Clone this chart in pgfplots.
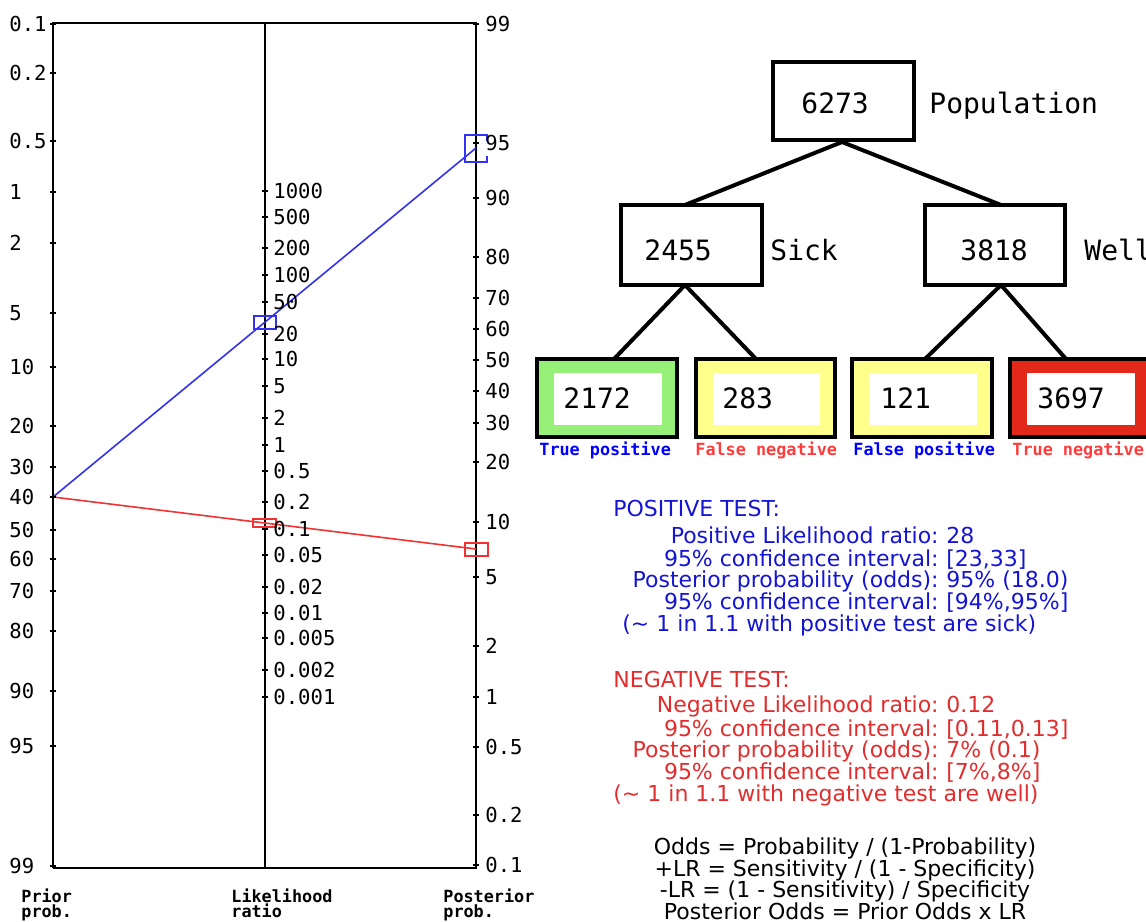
\documentclass[border=0pt]{standalone}
\usepackage{pgfplots}
\pgfplotsset{compat=1.18}
\usepackage{pgfplotstable}
\usepackage{fontspec}
\setmainfont{DejaVu Sans}
\newfontfamily\mono{DejaVu Sans Mono}

\definecolor{lineblue}{RGB}{50,50,240}
\definecolor{linered}{RGB}{240,50,50}
\definecolor{textblue}{RGB}{20,20,210}
\definecolor{textred}{RGB}{225,45,45}
\definecolor{labblue}{RGB}{0,0,255}
\definecolor{labred}{RGB}{255,60,60}
\definecolor{leafgreen}{RGB}{150,240,120}
\definecolor{leafyellow}{RGB}{255,255,140}
\definecolor{leafred}{RGB}{225,40,25}

\newcommand\ticklab{\mono\fontsize{10.3bp}{12bp}\selectfont}
\newcommand\treefont{\mono\fontsize{14bp}{16bp}\selectfont}
\newcommand\smallmono{\mono\bfseries\fontsize{8.4bp}{10bp}\selectfont}
\newcommand\txt{\fontsize{11bp}{13bp}\selectfont}

% nomogram scales, positions in pixels from the top
\pgfplotstableread{
y lab
24 0.1
73 0.2
141 0.5
192 1
243 2
313 5
367 10
426 20
467 30
497 40
530 50
559 60
591 70
631 80
691 90
746 95
866 99
}\prior

\pgfplotstableread{
y lab
191 1000
217 500
248 200
275 100
302 50
334 20
359 10
386 5
418 2
445 1
471 0.5
502 0.2
529 0.1
555 0.05
587 0.02
613 0.01
638 0.005
670 0.002
697 0.001
}\lratio

\pgfplotstableread{
y lab
24 99
143 95
198 90
257 80
298 70
329 60
360 50
391 40
423 30
462 20
522 10
577 5
646 2
697 1
747 0.5
815 0.2
865 0.1
}\post

\begin{document}
\begin{tikzpicture}[every node/.append style={inner sep=0pt}]
\begin{axis}[
    name=ax,
    width=573bp, height=461bp, scale only axis,
    xmin=0, xmax=1146, ymin=0, ymax=922,
    y dir=reverse,
    hide axis,
    clip=false,
    ticklabs/.style={draw=none, mark=none, nodes near coords,
        point meta=explicit symbolic,
        every node near coord/.append style={anchor=west, inner sep=0pt, font=\ticklab, text=black}},
    ticks/.style={black, only marks, mark=-, mark size=1.6bp, mark options={line width=0.9bp}},
]
% frame of the nomogram
\addplot[black, line width=1bp] coordinates {(53,868)(53,23)(476,23)(476,868)(53,868)};
\addplot[black, line width=1bp] coordinates {(265,23)(265,868)};

\addplot[ticks] table[x expr=53, y=y] {\prior};
\addplot[ticks] table[x expr=265, y=y] {\lratio};
\addplot[ticks] table[x expr=476, y=y] {\post};

\addplot[ticklabs] table[x expr=9, y=y, meta=lab] {\prior};
\addplot[ticklabs] table[x expr=273, y=y, meta=lab] {\lratio};
\addplot[ticklabs] table[x expr=485, y=y, meta=lab] {\post};

% positive test
\addplot[lineblue, line width=0.8bp] coordinates {(53,497)(476,148)};
\addplot[lineblue, line width=0.9bp] coordinates {(254,316)(276,316)(276,329)(254,329)} -- cycle;
\addplot[lineblue, line width=0.9bp] coordinates {(487,141)(487,135)(465,135)(465,162)(487,162)(487,156)};
% negative test
\addplot[linered, line width=0.8bp] coordinates {(53,497)(476,549)};
\addplot[linered, line width=0.9bp] coordinates {(253,519)(276,519)(276,527)(253,527)} -- cycle;
\addplot[linered, line width=0.9bp] coordinates {(465,543)(488,543)(488,556)(465,556)} -- cycle;

\node[anchor=base west, font=\smallmono] at (axis cs:21,902) {Prior};
\node[anchor=base west, font=\smallmono] at (axis cs:21,917) {prob.};
\node[anchor=base west, font=\smallmono] at (axis cs:231,902) {Likelihood};
\node[anchor=base west, font=\smallmono] at (axis cs:231,917) {ratio};
\node[anchor=base west, font=\smallmono] at (axis cs:443,902) {Posterior};
\node[anchor=base west, font=\smallmono] at (axis cs:443,917) {prob.};

% tree
\addplot[black, line width=2bp] coordinates {(685,205)(842,142)(1001,205)};
\addplot[black, line width=2bp] coordinates {(614,359)(685,285)(756,359)};
\addplot[black, line width=2bp] coordinates {(925,359)(1001,285)(1066,359)};

\addplot[draw=black, fill=white, line width=1.8bp] coordinates {(773,62)(914,62)(914,140)(773,140)} -- cycle;
\addplot[draw=black, fill=white, line width=1.8bp] coordinates {(621,205)(762,205)(762,285)(621,285)} -- cycle;
\addplot[draw=black, fill=white, line width=1.8bp] coordinates {(925,205)(1065,205)(1065,285)(925,285)} -- cycle;

\addplot[draw=black, fill=leafgreen, line width=1.6bp] coordinates {(537,359)(677,359)(677,437)(537,437)} -- cycle;
\addplot[draw=none, fill=white] coordinates {(554,373)(662,373)(662,425)(554,425)} -- cycle;
\addplot[draw=black, fill=leafyellow, line width=1.6bp] coordinates {(696,359)(835,359)(835,437)(696,437)} -- cycle;
\addplot[draw=none, fill=white] coordinates {(713,373)(820,373)(820,425)(713,425)} -- cycle;
\addplot[draw=black, fill=leafyellow, line width=1.6bp] coordinates {(852,359)(992,359)(992,437)(852,437)} -- cycle;
\addplot[draw=none, fill=white] coordinates {(869,373)(977,373)(977,425)(869,425)} -- cycle;
\addplot[draw=black, fill=leafred, line width=1.6bp] coordinates {(1010,359)(1150,359)(1150,437)(1010,437)} -- cycle;
\addplot[draw=none, fill=white] coordinates {(1027,373)(1135,373)(1135,425)(1027,425)} -- cycle;

\node[anchor=base west, font=\treefont] at (axis cs:801,114) {6273};
\node[anchor=base west, font=\treefont] at (axis cs:929,114) {Population};
\node[anchor=base west, font=\treefont] at (axis cs:644,260) {2455};
\node[anchor=base west, font=\treefont] at (axis cs:770,260) {Sick};
\node[anchor=base west, font=\treefont] at (axis cs:960,260) {3818};
\node[anchor=base west, font=\treefont] at (axis cs:1084,260) {Well};
\node[anchor=base west, font=\treefont] at (axis cs:563,408) {2172};
\node[anchor=base west, font=\treefont] at (axis cs:722,408) {283};
\node[anchor=base west, font=\treefont] at (axis cs:880,408) {121};
\node[anchor=base west, font=\treefont] at (axis cs:1037,408) {3697};

\node[anchor=base west, font=\smallmono, text=labblue] at (axis cs:539,455) {True positive};
\node[anchor=base west, font=\smallmono, text=labred] at (axis cs:695,455) {False negative};
\node[anchor=base west, font=\smallmono, text=labblue] at (axis cs:853,455) {False positive};
\node[anchor=base west, font=\smallmono, text=labred] at (axis cs:1012,455) {True negative};

% results text
\begin{scope}[every node/.style={font=\txt, inner sep=0pt, text=textblue}]
\node[anchor=base west] at (axis cs:613,516.7) {POSITIVE TEST:};
\node[anchor=base east] at (axis cs:939,543.3) {Positive Likelihood ratio:};
\node[anchor=base west] at (axis cs:946,543.3) {28};
\node[anchor=base east] at (axis cs:939,566) {95\% confidence interval:};
\node[anchor=base west] at (axis cs:946,566) {[23,33]};
\node[anchor=base east] at (axis cs:939,587.7) {Posterior probability (odds):};
\node[anchor=base west] at (axis cs:946,587.7) {95\% (18.0)};
\node[anchor=base east] at (axis cs:939,609) {95\% confidence interval:};
\node[anchor=base west] at (axis cs:946,609) {[94\%,95\%]};
\node[anchor=base west] at (axis cs:622,631.7) {(\textasciitilde{} 1 in 1.1 with positive test are sick)};
\end{scope}
\begin{scope}[every node/.style={font=\txt, inner sep=0pt, text=textred}]
\node[anchor=base west] at (axis cs:613,687.3) {NEGATIVE TEST:};
\node[anchor=base east] at (axis cs:939,712.7) {Negative Likelihood ratio:};
\node[anchor=base west] at (axis cs:946,712.7) {0.12};
\node[anchor=base east] at (axis cs:939,736) {95\% confidence interval:};
\node[anchor=base west] at (axis cs:946,736) {[0.11,0.13]};
\node[anchor=base east] at (axis cs:939,757.7) {Posterior probability (odds):};
\node[anchor=base west] at (axis cs:946,757.7) {7\% (0.1)};
\node[anchor=base east] at (axis cs:939,779.3) {95\% confidence interval:};
\node[anchor=base west] at (axis cs:946,779.3) {[7\%,8\%]};
\node[anchor=base west] at (axis cs:613,801.7) {(\textasciitilde{} 1 in 1.1 with negative test are well)};
\end{scope}
\begin{scope}[every node/.style={font=\txt, inner sep=0pt, text=black, anchor=base}]
\node at (axis cs:845,854.3) {Odds = Probability / (1-Probability)};
\node at (axis cs:845,876) {+LR = Sensitivity / (1 - Specificity)};
\node at (axis cs:845,897.7) {-LR = (1 - Sensitivity) / Specificity};
\node at (axis cs:845,919.3) {Posterior Odds = Prior Odds x LR};
\end{scope}
\end{axis}
\pgfresetboundingbox
\path[use as bounding box] (ax.south west) rectangle (ax.north east);
\end{tikzpicture}
\end{document}
